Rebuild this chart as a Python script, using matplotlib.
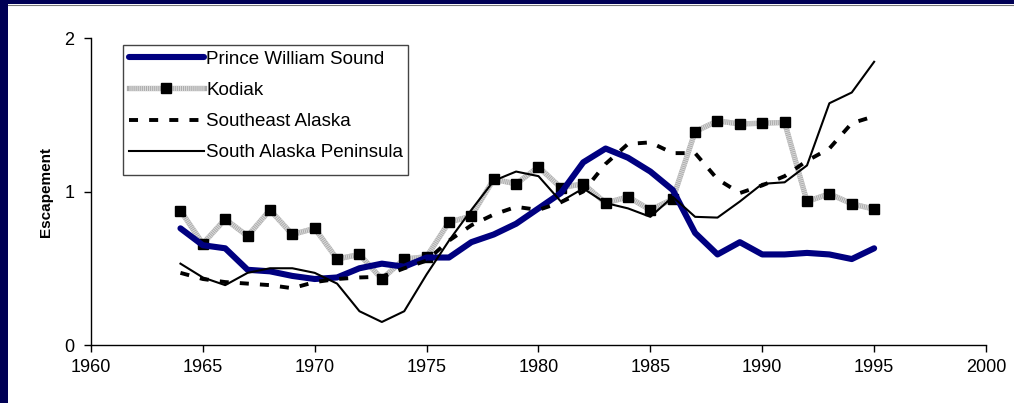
import matplotlib
matplotlib.use("Agg")
import matplotlib.pyplot as plt
from matplotlib.patches import Rectangle
from matplotlib.lines import Line2D

plt.rcParams["font.family"] = ["Liberation Sans", "DejaVu Sans"]
plt.rcParams["lines.scale_dashes"] = False

# Escapement indices, 1964-1995
years = list(range(1964, 1996))

prince_william = [0.76, 0.65, 0.63, 0.49, 0.48, 0.45, 0.43, 0.44, 0.50, 0.53, 0.51, 0.57,
                  0.57, 0.67, 0.72, 0.79, 0.89, 0.99, 1.19, 1.28, 1.22, 1.13, 1.01, 0.73,
                  0.59, 0.67, 0.59, 0.59, 0.60, 0.59, 0.56, 0.63]

kodiak = [0.875, 0.66, 0.82, 0.71, 0.88, 0.72, 0.76, 0.56, 0.59, 0.43, 0.56, 0.575,
          0.80, 0.84, 1.08, 1.05, 1.16, 1.025, 1.05, 0.925, 0.965, 0.88, 0.95, 1.39,
          1.46, 1.44, 1.445, 1.45, 0.935, 0.985, 0.92, 0.885]

southeast = [0.47, 0.43, 0.41, 0.40, 0.39, 0.37, 0.41, 0.43, 0.44, 0.445, 0.50, 0.55,
             0.68, 0.78, 0.85, 0.90, 0.88, 0.93, 1.00, 1.18, 1.31, 1.32, 1.25, 1.25,
             1.08, 0.99, 1.04, 1.10, 1.20, 1.28, 1.445, 1.49]

peninsula = [0.53, 0.44, 0.39, 0.47, 0.50, 0.50, 0.47, 0.40, 0.22, 0.15, 0.22, 0.46,
             0.68, 0.88, 1.07, 1.13, 1.10, 0.935, 1.02, 0.925, 0.89, 0.835, 0.965, 0.835,
             0.83, 0.935, 1.05, 1.06, 1.17, 1.575, 1.645, 1.845]

x_ticks = [1960, 1965, 1970, 1975, 1980, 1985, 1990, 1995, 2000]
y_ticks = [0, 1, 2]

W, H = 1014, 403
fig = plt.figure(figsize=(W / 100, H / 100), dpi=100)
fig.patch.set_facecolor("white")
ax = fig.add_axes([0.0897, 0.1439, 0.8827, 0.7618])

# navy slide border on the left and top edges
fig.patches.append(Rectangle((0, 0), 8 / W, 1, transform=fig.transFigure,
                             facecolor="#000055", edgecolor="none", zorder=-1))
fig.patches.append(Rectangle((0, 1 - 4 / H), 1, 4 / H, transform=fig.transFigure,
                             facecolor="#000055", edgecolor="none", zorder=-1))
fig.add_artist(Line2D([8 / W, 1], [1 - 4.5 / H] * 2, transform=fig.transFigure,
                      color="#777777", lw=0.8))

pws, = ax.plot(years, prince_william, color="#000080", lw=4.4,
               solid_capstyle="round", solid_joinstyle="round", zorder=3)

kod_base, = ax.plot(years, kodiak, color="#ababab", lw=3.8, zorder=2)
kod_top, = ax.plot(years, kodiak, color="#dcdcdc", lw=3.8, dashes=(0.7, 0.7),
                   marker="s", markersize=7.5, markerfacecolor="black",
                   markeredgecolor="black", zorder=2)

se, = ax.plot(years, southeast, color="black", lw=2.8, dashes=(6.5, 8), zorder=4)
sap, = ax.plot(years, peninsula, color="black", lw=1.5, zorder=5)

ax.set_xlim(1960, 2000)
ax.set_ylim(0, 2)
ax.set_xticks(x_ticks)
ax.set_yticks(y_ticks)
ax.tick_params(axis="both", direction="out", length=5, width=1, labelsize=13, color="black")
ax.tick_params(axis="x", pad=5)
ax.tick_params(axis="y", pad=7)
for side in ["top", "right"]:
    ax.spines[side].set_visible(False)
for side in ["left", "bottom"]:
    ax.spines[side].set_linewidth(1)

ax.set_ylabel("Escapement", fontsize=11, fontweight="bold", labelpad=8)

# legend entries without their own frame; the box is drawn separately
fig.legend(
    [pws, (kod_base, kod_top), se, sap],
    ["Prince William Sound", "Kodiak", "Southeast Alaska", "South Alaska Peninsula"],
    loc="upper left", bbox_to_anchor=(123 / W, 1 - 45 / H),
    bbox_transform=fig.transFigure, borderaxespad=0,
    fontsize=13.5, numpoints=1, handlelength=4.0, handletextpad=0.15,
    labelspacing=0.75, borderpad=0.3, frameon=False,
)
fig.patches.append(Rectangle((123 / W, 1 - 175 / H), 285 / W, 130 / H,
                             transform=fig.transFigure, facecolor="white",
                             edgecolor="#444444", lw=1, zorder=4))

fig.savefig("out.png", dpi=100, facecolor="white")
